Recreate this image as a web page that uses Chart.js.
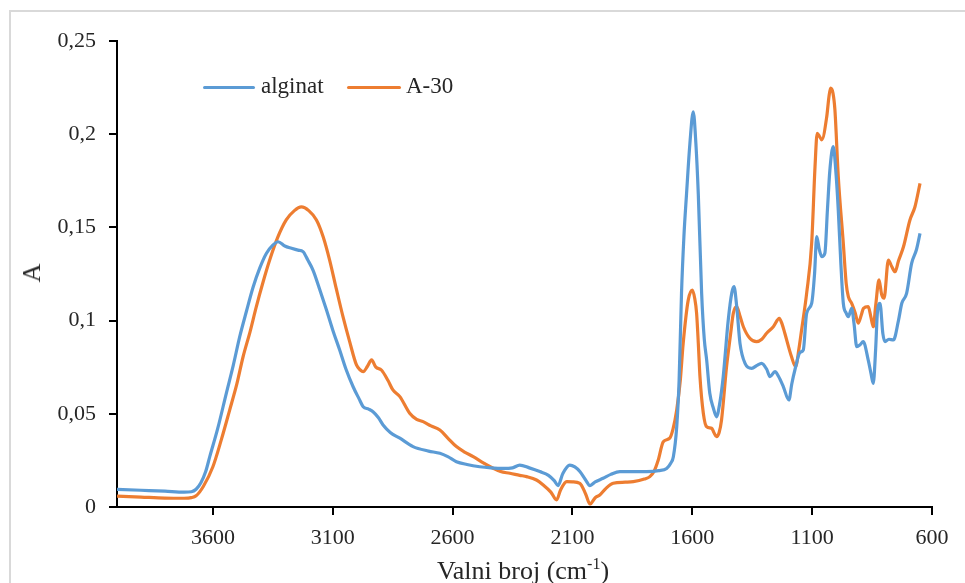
<!DOCTYPE html>
<html>
<head>
<meta charset="utf-8">
<script src="https://cdn.jsdelivr.net/npm/chart.js@4"></script>
<style>
    body { margin: 0; background: #fff; }
    #wrap { position: relative; width: 965px; height: 583px; overflow: hidden; background: #fff; }
    #frame { position: absolute; left: 9px; top: 10px; width: 980px; height: 600px; border: 2px solid #d9d9d9; box-sizing: border-box; }
    canvas { position: absolute; left: 0; top: 0; }
    .txt { position: absolute; font-family: 'Liberation Serif', 'Times New Roman', serif; color: #262626; white-space: nowrap; }
    .key { position: absolute; height: 3px; border-radius: 2px; }
    #ytitle { left: 32px; top: 273px; font-size: 26px; transform: translate(-50%, -50%) rotate(-90deg); }
    #xtitle { left: 523px; top: 571px; font-size: 26px; transform: translate(-50%, -50%); }
    #xtitle sup { font-size: 16px; vertical-align: 10px; line-height: 0; }
</style>
</head>
<body>
<div id="wrap">
    <div id="frame"></div>
    <canvas id="ftirChart" width="965" height="583"></canvas>
    <div class="key" style="left:203px; top:86px; width:52px; background:#5B9BD5;"></div>
    <div class="txt" style="left:261px; top:73px; font-size:23px;">alginat</div>
    <div class="key" style="left:347px; top:86px; width:54px; background:#ED7D31;"></div>
    <div class="txt" style="left:406px; top:73px; font-size:23px;">A-30</div>
    <div class="txt" id="ytitle">A</div>
    <div class="txt" id="xtitle">Valni broj (cm<sup>-1</sup>)</div>
</div>
<script>
// Wavenumbers (cm-1) and absorbance
const alginatWn = [4000, 3900, 3800, 3720, 3690, 3670, 3650, 3630, 3613, 3580, 3544, 3515, 3488, 3460, 3432, 3405, 3377, 3350, 3328, 3300,
    3272, 3245, 3224, 3204, 3182, 3155, 3126, 3100, 3071, 3045, 3015, 2990, 2973, 2950, 2932, 2910, 2890, 2860, 2820, 2765,
    2700, 2653, 2620, 2584, 2540, 2487, 2440, 2389, 2350, 2320, 2280, 2236, 2200, 2175, 2160, 2140, 2111, 2090, 2069, 2045,
    2027, 2005, 1972, 1940, 1902, 1850, 1791, 1740, 1707, 1690, 1679, 1665, 1655, 1645, 1635, 1624, 1610, 1596, 1585, 1575,
    1561, 1550, 1540, 1527, 1512, 1499, 1485, 1471, 1450, 1435, 1426, 1415, 1401, 1380, 1352, 1330, 1311, 1290, 1276, 1255,
    1240, 1220, 1197, 1185, 1172, 1150, 1137, 1123, 1102, 1090, 1081, 1070, 1060, 1047, 1036, 1026, 1012, 1000, 991, 980,
    970, 958, 949, 935, 925, 914, 900, 887, 866, 855, 845, 835, 828, 817, 805, 796, 780, 761, 740, 726,
    706, 685, 665, 650];
const alginatA = [0.0095, 0.0090, 0.0085, 0.0080, 0.0082, 0.0095, 0.013, 0.019, 0.027, 0.042, 0.061, 0.076, 0.0914, 0.105, 0.118, 0.128, 0.136, 0.1405, 0.1423, 0.140,
    0.1388, 0.1378, 0.137, 0.1325, 0.127, 0.117, 0.1057, 0.095, 0.0842, 0.074, 0.0645, 0.058, 0.0538, 0.0525, 0.0511, 0.048, 0.044, 0.040, 0.0369, 0.0324,
    0.030, 0.0288, 0.027, 0.0243, 0.0228, 0.0216, 0.021, 0.0207, 0.021, 0.0225, 0.021, 0.019, 0.017, 0.014, 0.0115, 0.018, 0.0225, 0.0215, 0.019, 0.0145,
    0.0115, 0.0135, 0.0154, 0.0175, 0.019, 0.019, 0.019, 0.0195, 0.0207, 0.0235, 0.027, 0.043, 0.068, 0.1146, 0.145, 0.168, 0.195, 0.212, 0.195, 0.168,
    0.1146, 0.090, 0.0788, 0.061, 0.053, 0.0484, 0.056, 0.0699, 0.1003, 0.115, 0.1182, 0.108, 0.0878, 0.0771, 0.0744, 0.076, 0.0771, 0.074, 0.0699, 0.0726,
    0.070, 0.0645, 0.0574, 0.066, 0.0735, 0.083, 0.0842, 0.1039, 0.1093, 0.125, 0.145, 0.138, 0.1343, 0.1361, 0.160, 0.1808, 0.1933, 0.178, 0.1593, 0.130,
    0.1093, 0.104, 0.1021, 0.1066, 0.098, 0.086, 0.087, 0.0887, 0.0788, 0.072, 0.0663, 0.085, 0.1039, 0.1093, 0.093, 0.0887, 0.090, 0.0896, 0.100, 0.1093,
    0.1146, 0.1307, 0.138, 0.1468];

const a30Wn = [4000, 3900, 3800, 3720, 3690, 3670, 3640, 3600, 3565, 3530, 3500, 3474, 3445, 3419, 3390, 3363, 3330, 3294, 3260, 3231,
    3200, 3168, 3140, 3113, 3085, 3057, 3030, 3001, 2985, 2973, 2955, 2938, 2920, 2897, 2870, 2849, 2820, 2779, 2750, 2723,
    2690, 2653, 2620, 2584, 2550, 2514, 2470, 2431, 2400, 2361, 2320, 2291, 2250, 2222, 2190, 2166, 2150, 2124, 2100, 2069,
    2045, 2027, 2005, 1986, 1960, 1930, 1880, 1846, 1800, 1777, 1760, 1742, 1721, 1694, 1680, 1665, 1650, 1638, 1617, 1600,
    1590, 1582, 1575, 1568, 1554, 1540, 1519, 1510, 1499, 1488, 1478, 1457, 1440, 1429, 1415, 1400, 1387, 1360, 1332, 1310,
    1290, 1262, 1237, 1225, 1214, 1186, 1169, 1155, 1144, 1123, 1102, 1088, 1079, 1070, 1060, 1039, 1030, 1023, 1013, 1005,
    991, 970, 958, 949, 935, 920, 908, 895, 886, 866, 855, 845, 835, 821, 810, 800, 782, 768, 754, 740,
    719, 692, 671, 650];
const a30A = [0.0058, 0.0053, 0.0048, 0.0047, 0.0050, 0.0060, 0.011, 0.0216, 0.036, 0.052, 0.066, 0.0806, 0.094, 0.1074, 0.121, 0.1325, 0.1445, 0.154, 0.159, 0.161,
    0.159, 0.154, 0.145, 0.1325, 0.117, 0.102, 0.089, 0.0762, 0.0735, 0.0726, 0.0755, 0.0789, 0.075, 0.0735, 0.068, 0.0628, 0.0592, 0.0503, 0.047, 0.0458,
    0.0435, 0.0413, 0.037, 0.0324, 0.0295, 0.027, 0.0235, 0.0208, 0.019, 0.0181, 0.017, 0.0163, 0.0145, 0.0118, 0.008, 0.0038, 0.009, 0.0136, 0.0135, 0.0127,
    0.007, 0.0016, 0.005, 0.0064, 0.010, 0.0127, 0.0133, 0.0136, 0.015, 0.0163, 0.019, 0.0252, 0.035, 0.0369, 0.042, 0.052, 0.068, 0.0878, 0.111, 0.1164,
    0.112, 0.1039, 0.088, 0.0699, 0.0503, 0.043, 0.0422, 0.040, 0.0377, 0.040, 0.0467, 0.0753, 0.093, 0.1039, 0.1075, 0.102, 0.0967, 0.0905, 0.0887, 0.090,
    0.0932, 0.0967, 0.1012, 0.098, 0.0932, 0.0806, 0.0753, 0.085, 0.095, 0.1146, 0.1414, 0.1826, 0.2005, 0.199, 0.197, 0.2095, 0.220, 0.2247, 0.222, 0.213,
    0.1773, 0.1414, 0.120, 0.1128, 0.1093, 0.104, 0.0986, 0.103, 0.1066, 0.1075, 0.102, 0.0967, 0.108, 0.1218, 0.114, 0.112, 0.1325, 0.129, 0.1262, 0.132,
    0.1396, 0.154, 0.1611, 0.1736];

// Axis ticks
const xTicks = [3600, 3100, 2600, 2100, 1600, 1100, 600];
const yTicks = [0, 0.05, 0.1, 0.15, 0.2, 0.25];

function toPoints(wn, vals) {
    return wn.map((w, i) => ({ x: w, y: vals[i] }));
}

const tickFont = { family: "'Liberation Serif', 'Times New Roman', serif", size: 22 };
const axisColor = '#000';

const ctx = document.getElementById('ftirChart').getContext('2d');
const chart = new Chart(ctx, {
    type: 'line',
    data: {
        datasets: [{
            label: 'alginat',
            data: toPoints(alginatWn, alginatA),
            borderColor: '#5B9BD5',
            backgroundColor: '#5B9BD5',
            borderWidth: 3.2,
            pointRadius: 0,
            cubicInterpolationMode: 'monotone'
        }, {
            label: 'A-30',
            data: toPoints(a30Wn, a30A),
            borderColor: '#ED7D31',
            backgroundColor: '#ED7D31',
            borderWidth: 3.2,
            pointRadius: 0,
            cubicInterpolationMode: 'monotone'
        }]
    },
    options: {
        responsive: false,
        animation: false,
        layout: {
            padding: { left: 0, top: 41, right: 33, bottom: 0 }
        },
        plugins: {
            legend: { display: false },
            tooltip: { enabled: false }
        },
        scales: {
            x: {
                type: 'linear',
                reverse: true,
                min: 600,
                max: 4000,
                afterBuildTicks: function(scale) {
                    scale.ticks = xTicks.map(v => ({ value: v }));
                },
                afterFit: function(scale) {
                    scale.height = 76;
                },
                grid: { drawOnChartArea: false, drawTicks: true, tickLength: 8, color: axisColor, lineWidth: 2 },
                border: { display: true, color: axisColor, width: 2 },
                ticks: {
                    font: tickFont,
                    color: '#262626',
                    padding: 10,
                    maxRotation: 0,
                    autoSkip: false,
                    callback: v => String(v)
                }
            },
            y: {
                min: 0,
                max: 0.25,
                afterBuildTicks: function(scale) {
                    scale.ticks = yTicks.map(v => ({ value: v }));
                },
                afterFit: function(scale) {
                    scale.width = 117;
                },
                grid: { drawOnChartArea: false, drawTicks: true, tickLength: 8, color: axisColor, lineWidth: 2 },
                border: { display: true, color: axisColor, width: 2 },
                ticks: {
                    font: tickFont,
                    color: '#262626',
                    padding: 13,
                    autoSkip: false,
                    callback: v => String(+v.toFixed(2)).replace('.', ',')
                }
            }
        }
    }
});
</script>
</body>
</html>
